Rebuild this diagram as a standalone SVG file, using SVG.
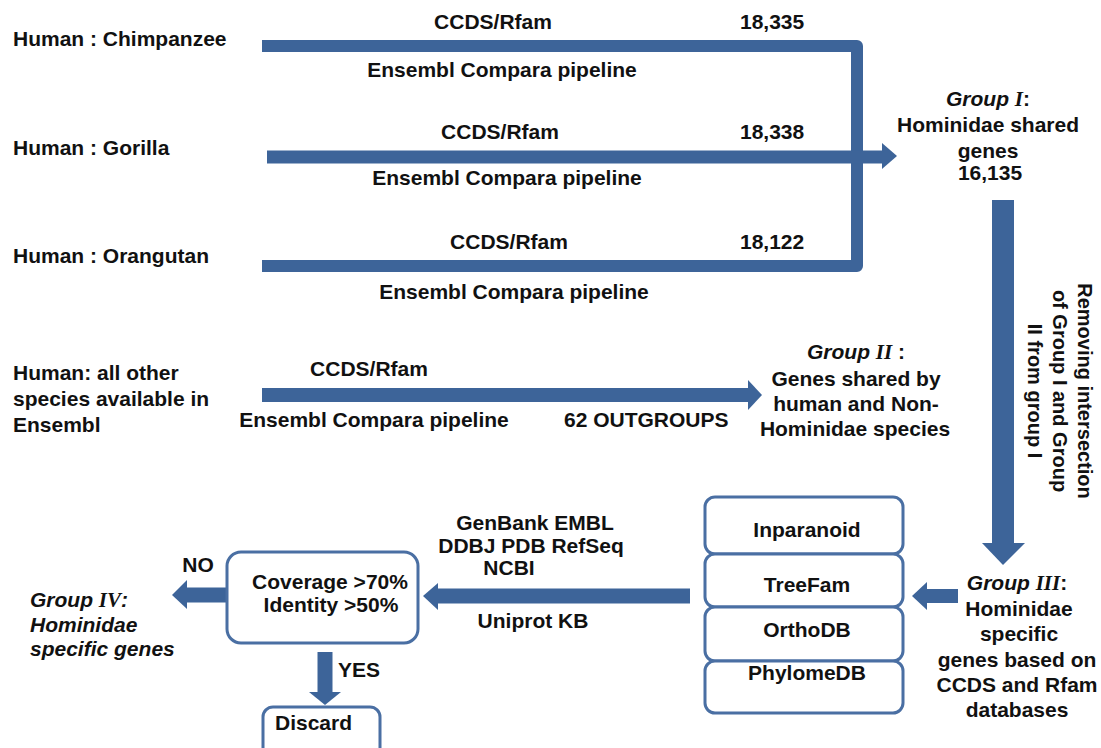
<svg xmlns="http://www.w3.org/2000/svg" width="1101" height="748" viewBox="0 0 1101 748">
<style>
text{font-family:"Liberation Sans",Arial,sans-serif;font-weight:bold;font-size:21px;fill:#111}
.c{text-anchor:middle}
.it{font-style:italic}
.rn{font-family:"Liberation Serif","Times New Roman",serif;font-style:italic;font-weight:bold}
.rot{font-size:20px}
.bar{fill:none;stroke:#3d6499}
.head{fill:#3d6499}
.box{fill:#fff;stroke:#4a6fa3;stroke-width:3}
</style>
<rect width="1101" height="748" fill="#fff"/>
<g id="connectors">
<path class="bar" d="M262,46 H857 V266 H262" stroke-width="12" stroke-linejoin="round"/>
<line class="bar" x1="267" y1="157" x2="883" y2="157" stroke-width="13"/>
<polygon class="head" points="882,143 897,156 882,169"/>
<line class="bar" x1="262" y1="395" x2="749" y2="395" stroke-width="14"/>
<polygon class="head" points="748,380 762,395 748,410"/>
<line class="bar" x1="1003" y1="200" x2="1003" y2="544" stroke-width="22"/>
<polygon class="head" points="982,543 1025,543 1003,565"/>
<line class="bar" x1="958" y1="596" x2="926" y2="596" stroke-width="14"/>
<polygon class="head" points="927,582 927,610 912,596"/>
<line class="bar" x1="690" y1="596" x2="437" y2="596" stroke-width="15"/>
<polygon class="head" points="438,583 438,610 423,596"/>
<line class="bar" x1="227" y1="595" x2="186" y2="595" stroke-width="15"/>
<polygon class="head" points="187,580 187,609 172,595"/>
<line class="bar" x1="325" y1="652" x2="325" y2="693" stroke-width="15"/>
<polygon class="head" points="309,692 341,692 325,705"/>
</g>
<g id="labels">
<text x="13" y="46">Human : Chimpanzee</text>
<text x="13" y="155">Human : Gorilla</text>
<text x="13" y="263">Human : Orangutan</text>
<text x="13" y="380">Human: all other</text>
<text x="13" y="406">species available in</text>
<text x="13" y="432">Ensembl</text>
<text class="c" x="493" y="29">CCDS/Rfam</text>
<text x="740" y="29">18,335</text>
<text class="c" x="502" y="77">Ensembl Compara pipeline</text>
<text class="c" x="500" y="139">CCDS/Rfam</text>
<text x="740" y="139">18,338</text>
<text class="c" x="507" y="185">Ensembl Compara pipeline</text>
<text class="c" x="509" y="249">CCDS/Rfam</text>
<text x="740" y="249">18,122</text>
<text class="c" x="514" y="299">Ensembl Compara pipeline</text>
<text class="c" x="369" y="376">CCDS/Rfam</text>
<text class="c" x="374" y="427">Ensembl Compara pipeline</text>
<text x="564" y="427">62 OUTGROUPS</text>
<text class="c" x="535" y="530">GenBank EMBL</text>
<text class="c" x="531" y="553">DDBJ PDB RefSeq</text>
<text class="c" x="509" y="575">NCBI</text>
<text class="c" x="533" y="628">Uniprot KB</text>
<text class="c" x="198" y="572">NO</text>
<text x="338" y="677">YES</text>
<text class="c rot" transform="translate(1078,391) rotate(90)">Removing intersection</text>
<text class="c rot" transform="translate(1053,391) rotate(90)">of Group I and Group</text>
<text class="c rot" transform="translate(1028,391) rotate(90)">II from group I</text>
</g>
<g id="group1">
<text class="c" x="988" y="106"><tspan class="it">Group </tspan><tspan class="rn">I</tspan>:</text>
<text class="c" x="988" y="132">Hominidae shared</text>
<text class="c" x="988" y="158">genes</text>
<text class="c" x="990" y="180">16,135</text>
</g>
<g id="group2">
<text class="c" x="856" y="359"><tspan class="it">Group </tspan><tspan class="rn">II</tspan> :</text>
<text class="c" x="856" y="386">Genes shared by</text>
<text class="c" x="856" y="411">human and Non-</text>
<text class="c" x="855" y="436">Hominidae species</text>
</g>
<g id="group3">
<text class="c" x="1017" y="590"><tspan class="it">Group </tspan><tspan class="rn">III</tspan>:</text>
<text class="c" x="1019" y="616">Hominidae</text>
<text class="c" x="1019" y="641">specific</text>
<text class="c" x="1017" y="667">genes based on</text>
<text class="c" x="1017" y="692">CCDS and Rfam</text>
<text class="c" x="1017" y="717">databases</text>
</g>
<g id="group4">
<text x="30" y="607"><tspan class="it">Group </tspan><tspan class="rn">IV</tspan><tspan class="it">:</tspan></text>
<text class="it" x="30" y="632">Hominidae</text>
<text class="it" x="30" y="656">specific genes</text>
</g>
<g id="databases">
<rect class="box" x="705" y="497" width="198" height="57" rx="10"/>
<rect class="box" x="705" y="554" width="198" height="53" rx="10"/>
<rect class="box" x="705" y="607" width="198" height="54" rx="10"/>
<rect class="box" x="705" y="661" width="198" height="52" rx="10"/>
<text class="c" x="807" y="537">Inparanoid</text>
<text class="c" x="807" y="592">TreeFam</text>
<text class="c" x="807" y="637">OrthoDB</text>
<text class="c" x="807" y="680">PhylomeDB</text>
</g>
<g id="filter">
<rect class="box" x="227" y="552" width="191" height="91" rx="14"/>
<text class="c" x="330" y="589">Coverage &gt;70%</text>
<text class="c" x="331" y="612">Identity &gt;50%</text>
</g>
<g id="discard">
<rect class="box" x="263" y="707" width="117" height="60" rx="10"/>
<text x="275" y="730">Discard</text>
</g>
</svg>
